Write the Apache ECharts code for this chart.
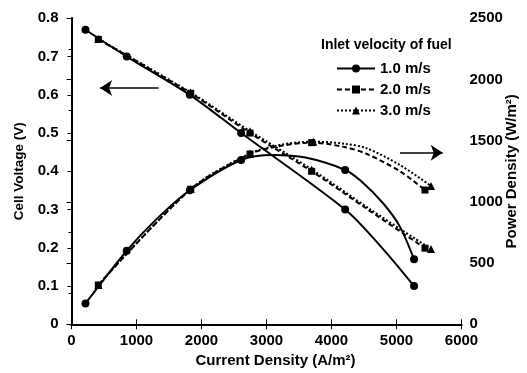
<!DOCTYPE html>
<html><head><meta charset="utf-8">
<script src="https://cdn.jsdelivr.net/npm/echarts@6/dist/echarts.min.js"></script>
<style>html,body{margin:0;padding:0;background:#fff}#c{width:527px;height:373px}</style>
</head><body><div id="c"></div>
<script>
// Current density (A/m2) and values
const names = ['1.0 m/s', '2.0 m/s', '3.0 m/s'];
// 1.0 m/s
const v1X = [215, 850, 1820, 2610, 4210, 4750, 5270];
const v1Y = [0.77, 0.70, 0.60, 0.50, 0.30, 0.205, 0.10];
const v1Marks = [215, 850, 1820, 2610, 4210, 5270];
const p1X = [215, 850, 1300, 1820, 2610, 3100, 3600, 4210, 4450, 4800, 5050, 5270];
const p1Y = [170, 601, 855, 1095, 1342, 1383, 1362, 1261, 1172, 985, 800, 531];
const p1Marks = [215, 850, 1820, 2610, 4210, 5270];
// 2.0 m/s
const v2X = [413, 1834, 2746, 3695, 4560, 5438];
const v2Y = [0.745, 0.604, 0.50, 0.40, 0.30, 0.199];
const v2Marks = [413, 1834, 2746, 3695, 5438];
const p2X = [413, 1834, 2746, 3250, 3695, 4200, 4541, 5054, 5438];
const p2Y = [321, 1103, 1391, 1460, 1484, 1448, 1392, 1250, 1097];
const p2Marks = [413, 1834, 2746, 3695, 5438];
// 3.0 m/s
const v3X = [413, 1834, 2746, 3695, 4600, 5531];
const v3Y = [0.746, 0.606, 0.505, 0.405, 0.30, 0.197];
const v3Marks = [413, 1834, 2746, 3695, 5531];
const p3X = [413, 1834, 2746, 3250, 3720, 4200, 4541, 5054, 5531];
const p3Y = [322, 1105, 1395, 1470, 1492, 1475, 1438, 1301, 1130];
const p3Marks = [413, 1834, 2746, 3720, 5531];

const xTicks = {min: 0, max: 6000, interval: 1000};
const vTicks = {min: 0, max: 0.8, interval: 0.1};
const pTicks = {min: 0, max: 2500, interval: 500};

const styles = [
  {type: 'solid', symbol: 'circle', size: 8},
  {type: [5, 3], symbol: 'rect', size: 7},
  {type: [2, 2], symbol: 'triangle', size: 8}
];

function build(xs, ys, marks) {
  return xs.map((x, i) => {
    const it = {value: [x, ys[i]]};
    if (marks.indexOf(x) < 0) it.symbol = 'none';
    return it;
  });
}
function mk(idx, xs, ys, marks, yAxisIndex, extra) {
  const s = styles[idx];
  return Object.assign({
    name: names[idx], type: 'line', yAxisIndex: yAxisIndex,
    smooth: 0.3, showAllSymbol: true,
    symbol: s.symbol, symbolSize: s.size,
    lineStyle: {color: '#000', width: 2, type: s.type},
    itemStyle: {color: '#000'},
    data: build(xs, ys, marks),
    animation: false, z: 3
  }, extra || {});
}
function arrow(from, to) {
  return {
    silent: true, symbol: ['none', 'arrow'], symbolSize: 12, label: {show: false},
    lineStyle: {color: '#000', width: 1.5, type: 'solid'},
    data: [[{coord: from}, {coord: to}]]
  };
}
const F = 'Liberation Sans, Arial, sans-serif';
const lbl = {color: '#000', fontFamily: F, fontWeight: 'bold', fontSize: 15};
const plain = v => String(v);

const chart = echarts.init(document.getElementById('c'), null, {renderer: 'canvas'});
chart.setOption({
  animation: false,
  backgroundColor: '#fff',
  grid: {left: 71.5, right: 65.5, top: 18.3, bottom: 48.7, containLabel: false, outerBoundsMode: 'none'},
  title: {text: 'Inlet velocity of fuel', left: 316, top: 33,
    textStyle: {fontFamily: F, fontWeight: 'bold', fontSize: 14, color: '#000'}},
  legend: {
    orient: 'vertical', left: 331, top: 56, itemWidth: 38, itemHeight: 10, itemGap: 6,
    data: names, textStyle: {fontFamily: F, fontWeight: 'bold', fontSize: 15, color: '#000'},
    itemStyle: {color: '#000'}
  },
  xAxis: [{
    type: 'value', min: xTicks.min, max: xTicks.max, interval: xTicks.interval,
    name: 'Current Density (A/m²)', nameLocation: 'middle', nameGap: 25,
    nameTextStyle: Object.assign({}, lbl, {fontSize: 15, padding: [0, 0, 0, 18]}),
    axisLine: {show: true, lineStyle: {color: '#000', width: 2}},
    axisTick: {show: true, inside: true, length: 5, lineStyle: {color: '#000', width: 1}},
    axisLabel: Object.assign({}, lbl, {margin: 9, formatter: plain}),
    splitLine: {show: false}
  }, {
    type: 'value', position: 'top', min: xTicks.min, max: xTicks.max, interval: xTicks.interval,
    axisLine: {show: true, lineStyle: {color: '#000', width: 2}},
    axisTick: {show: true, inside: true, length: 5, lineStyle: {color: '#000'}},
    axisLabel: {show: false}, splitLine: {show: false}
  }],
  yAxis: [{
    type: 'value', min: vTicks.min, max: vTicks.max, interval: vTicks.interval,
    name: 'Cell Voltage (V)', nameLocation: 'middle', nameGap: 41, nameRotate: 90,
    nameTextStyle: Object.assign({}, lbl, {fontSize: 13.5}),
    axisLine: {show: true, lineStyle: {color: '#000', width: 2}},
    axisTick: {show: true, inside: false, length: 4, lineStyle: {color: '#000'}},
    axisLabel: Object.assign({}, lbl, {margin: 13, formatter: v => (v === 0 ? '0' : v.toFixed(1))}),
    splitLine: {show: false}
  }, {
    type: 'value', position: 'right', min: pTicks.min, max: pTicks.max, interval: pTicks.interval,
    name: 'Power Density (W/m²)', nameLocation: 'middle', nameGap: 43, nameRotate: 90,
    nameMoveOverlap: false,
    nameTextStyle: Object.assign({}, lbl, {fontSize: 15}),
    axisLine: {show: true, lineStyle: {color: '#000', width: 2}},
    axisTick: {show: true, inside: true, length: 5, lineStyle: {color: '#000'}},
    minorTick: {show: true, splitNumber: 2, length: 3, lineStyle: {color: '#000'}},
    axisLabel: Object.assign({}, lbl, {margin: 8, formatter: plain}),
    splitLine: {show: false}
  }],
  series: [
    mk(0, v1X, v1Y, v1Marks, 0, {markLine: arrow([1340, 0.618], [440, 0.618])}),
    mk(0, p1X, p1Y, p1Marks, 1, {markLine: arrow([5054, 1402], [5711, 1402])}),
    mk(1, v2X, v2Y, v2Marks, 0),
    mk(1, p2X, p2Y, p2Marks, 1),
    mk(2, v3X, v3Y, v3Marks, 0),
    mk(2, p3X, p3Y, p3Marks, 1)
  ]
});
</script></body></html>
